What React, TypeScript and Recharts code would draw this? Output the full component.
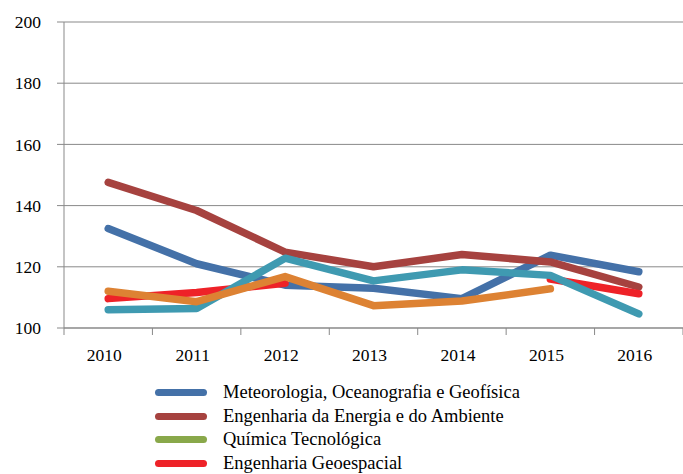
import { CartesianGrid, Line, LineChart, XAxis, YAxis } from "recharts";

const years = ["2010", "2011", "2012", "2013", "2014", "2015", "2016"];

const meteorologia = [132.5, 121, 114, 113, 109.6, 123.8, 118.4];
const energia = [147.6, 138.4, 124.8, 120, 124, 121.6, 113.4];
const quimica: (number | null)[] = [null, null, null, null, null, null, null];
const geoespacial: (number | null)[] = [109.6, 111.6, 114.6, null, null, 116, 111.2];
const fisica = [106, 106.4, 122.8, 115.4, 119, 117.2, 104.6];
const engFisica: (number | null)[] = [112, 108.6, 116.8, 107.3, 108.8, 112.8, null];

const yTicks = [100, 120, 140, 160, 180, 200];

const series = [
  { key: "s0", name: "Meteorologia, Oceanografia e Geofísica", values: meteorologia, color: "#4471a8" },
  { key: "s1", name: "Engenharia da Energia e do Ambiente", values: energia, color: "#a6423f" },
  { key: "s2", name: "Química Tecnológica", values: quimica, color: "#89a84a" },
  { key: "s3", name: "Engenharia Geoespacial", values: geoespacial, color: "#ee2228" },
  { key: "s4", name: "Física", values: fisica, color: "#3f9ab1" },
  { key: "s5", name: "Engenharia Física", values: engFisica, color: "#dd8233" },
];

const rows = years.map((year, i) => {
  const row: Record<string, number | string | null> = { x: i + 0.5, year };
  series.forEach((s) => {
    row[s.key] = s.values[i];
  });
  return row;
});

const font = "Liberation Serif, Times New Roman, serif";
const axisColor = "#898989";
const halfBand = 620 / 7 / 2;

// labels sit a little left of the band centre, like the original
const YearTick = (props: any) => {
  const { x, y, index } = props;
  if (index >= years.length) return null;
  return (
    <text x={x + halfBand - 4} y={y + 24} textAnchor="middle" fontSize={17.5} fontFamily={font} fill="#000">
      {years[index]}
    </text>
  );
};

export default function App() {
  return (
    <div style={{ position: "absolute", left: 0, top: 0, width: 683, height: 474, overflow: "hidden", background: "#fff" }}>
      <LineChart width={683} height={474} data={rows} margin={{ top: 22, right: 0, left: 0, bottom: 116 }}>
        <CartesianGrid vertical={false} stroke={axisColor} strokeWidth={1} />
        <XAxis
          dataKey="x"
          type="number"
          domain={[0, 7]}
          ticks={[0, 1, 2, 3, 4, 5, 6, 7]}
          height={30}
          tickSize={7}
          axisLine={{ stroke: axisColor }}
          tickLine={{ stroke: axisColor }}
          tick={<YearTick />}
          interval={0}
        />
        <YAxis
          domain={[100, 200]}
          ticks={yTicks}
          width={64}
          tickSize={7}
          tickMargin={16}
          axisLine={{ stroke: axisColor }}
          tickLine={{ stroke: axisColor }}
          tick={{ fontSize: 17.5, fontFamily: font, fill: "#000" }}
        />
        {series.map((s) => (
          <Line
            key={s.key}
            dataKey={s.key}
            name={s.name}
            stroke={s.color}
            strokeWidth={7.5}
            strokeLinecap="round"
            strokeLinejoin="round"
            dot={false}
            activeDot={false}
            type="linear"
            isAnimationActive={false}
          />
        ))}
      </LineChart>
      <div style={{ position: "absolute", left: 155, top: 381, fontFamily: font, fontSize: 18.5, color: "#000" }}>
        {series.map((s) => (
          <div key={s.key} style={{ display: "flex", alignItems: "center", height: 23.6 }}>
            <div style={{ width: 52, height: 7, borderRadius: 4, background: s.color, marginRight: 16 }} />
            <span style={{ whiteSpace: "nowrap" }}>{s.name}</span>
          </div>
        ))}
      </div>
    </div>
  );
}
